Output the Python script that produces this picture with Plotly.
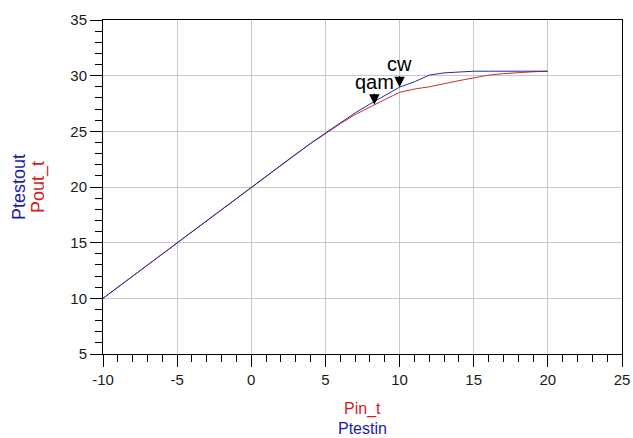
import numpy as np
import plotly.graph_objects as go

# Data
pin = list(range(-10, 21))
ptestout = [10, 11, 12, 13, 14, 15, 16, 17, 18, 19, 20, 21, 21.99, 22.97, 23.92, 24.85,
            25.78, 26.65, 27.45, 28.22, 28.97, 29.45, 30.05, 30.25, 30.35, 30.4,
            30.4, 30.4, 30.4, 30.4, 30.4]
pout_t = [10, 11, 12, 13, 14, 15, 16, 17, 18, 19, 20, 21, 21.99, 22.96, 23.9, 24.8,
          25.68, 26.5, 27.2, 27.85, 28.5, 28.8, 29.0, 29.3, 29.55, 29.8,
          30.05, 30.18, 30.28, 30.35, 30.4]

marker_names = ["cw", "qam"]
marker_x = [10.0, 8.3]
marker_series = ["ptestout", "pout_t"]

x_ticks = [-10, -5, 0, 5, 10, 15, 20, 25]
y_ticks = [5, 10, 15, 20, 25, 30, 35]

RED = "#d41c1c"
BLUE = "#1c1ca8"
FONT = "Liberation Sans, Arial, sans-serif"

fig = go.Figure()
fig.add_trace(go.Scatter(x=pin, y=pout_t, mode="lines",
                         line=dict(color="#c8302c", width=1), showlegend=False))
fig.add_trace(go.Scatter(x=pin, y=ptestout, mode="lines",
                         line=dict(color="#2a2aa0", width=1), showlegend=False))

series = {"ptestout": ptestout, "pout_t": pout_t}
for name, mx, s in zip(marker_names, marker_x, marker_series):
    my = float(np.interp(mx, pin, series[s]))
    fig.add_annotation(x=mx, y=my, text=name, showarrow=True,
                       arrowhead=2, arrowsize=2.1, arrowwidth=1, arrowcolor="black",
                       ax=0, ay=-11, xanchor="center", yanchor="bottom",
                       borderpad=0, standoff=0,
                       font=dict(family=FONT, size=20, color="black"))

# axis titles
fig.add_annotation(xref="paper", yref="paper", x=0.5, y=0, yanchor="middle", yshift=-55,
                   showarrow=False, text="Pin_t",
                   font=dict(family=FONT, size=16, color=RED))
fig.add_annotation(xref="paper", yref="paper", x=0.5, y=0, yanchor="middle", yshift=-74,
                   showarrow=False, text="Ptestin",
                   font=dict(family=FONT, size=16, color=BLUE))
fig.add_annotation(xref="paper", yref="paper", x=0, y=0.5, xanchor="center", xshift=-84,
                   showarrow=False, textangle=-90, text="Ptestout",
                   font=dict(family=FONT, size=18, color=BLUE))
fig.add_annotation(xref="paper", yref="paper", x=0, y=0.5, xanchor="center", xshift=-65,
                   showarrow=False, textangle=-90, text="Pout_t",
                   font=dict(family=FONT, size=18, color=RED))

axis_common = dict(showline=True, linecolor="black", linewidth=1, mirror=True,
                   showgrid=True, gridcolor="#c8c8c8", gridwidth=1,
                   ticks="outside", ticklen=12, tickcolor="black", tickwidth=1,
                   zeroline=False, automargin=False,
                   tickfont=dict(family=FONT, size=15, color="#1a1a1a"))

fig.update_xaxes(range=[-10, 25], tickvals=x_ticks, ticktext=[str(v) for v in x_ticks],
                 minor=dict(dtick=1, tick0=0, ticks="outside", ticklen=7,
                            tickcolor="black", showgrid=False),
                 **axis_common)
fig.update_yaxes(range=[5, 35], tickvals=y_ticks, ticktext=[str(v) for v in y_ticks],
                 minor=dict(dtick=1, tick0=0, ticks="outside", ticklen=7,
                            tickcolor="black", showgrid=False),
                 **axis_common)

fig.update_layout(width=633, height=438, margin=dict(l=103, r=11, t=20, b=84),
                  paper_bgcolor="white", plot_bgcolor="white", showlegend=False)

fig.write_html("out.html")
